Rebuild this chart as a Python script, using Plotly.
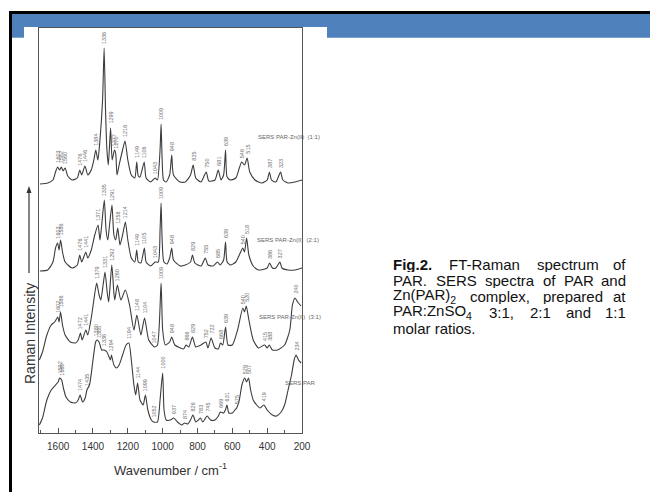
import numpy as np
import plotly.graph_objects as go

# ---------------- spectra (wavenumber / cm-1, stacked intensity) ----------------
wn_11 = [1705,1660,1630,1615,1603,1592,1582,1572,1560,1545,1520,1490,1476,1465,1446,1430,1410,1395,1384,1372,1360,1345,1336,1328,1320,1312,1299,1290,1277,1270,1262,1250,1230,1216,1200,1180,1160,1149,1140,1130,1106,1095,1070,1043,1030,1015,1009,1003,995,980,960,948,938,900,870,840,825,810,780,750,735,700,681,665,650,639,630,610,580,560,546,530,515,500,470,430,400,387,375,350,323,310,280,240,200]
in_11 = [249,250,253,261,266,263,266,262,265,257,253,255,263,258,267,258,263,273,283,273,293,333,385,323,283,268,305,273,283,280,258,268,283,292,273,258,255,271,257,256,271,255,251,255,253,283,309,273,253,251,258,278,258,251,251,258,268,255,251,261,252,253,263,253,258,283,256,253,255,265,271,268,275,261,253,250,253,261,253,251,261,253,250,251,253]

wn_21 = [1705,1660,1630,1615,1603,1595,1586,1575,1560,1520,1490,1476,1465,1441,1430,1410,1390,1371,1360,1350,1335,1325,1315,1305,1291,1280,1270,1258,1245,1230,1214,1200,1180,1160,1149,1140,1125,1105,1095,1070,1043,1025,1015,1009,1003,993,975,960,948,938,900,870,840,829,815,780,755,740,710,685,670,650,639,630,610,580,560,540,530,518,505,480,450,400,386,370,350,327,315,280,240,200]
in_21 = [162,163,171,185,190,183,193,181,171,165,168,178,171,181,175,183,198,208,193,208,233,203,193,208,228,198,193,205,188,198,211,193,175,171,183,171,170,185,171,167,171,171,203,230,193,171,169,175,185,173,167,168,171,178,170,167,175,168,167,171,168,173,191,171,168,171,178,185,181,195,178,167,163,165,170,165,165,171,165,163,163,165]

wn_31 = [1708,1690,1665,1640,1620,1602,1595,1586,1575,1560,1530,1500,1485,1472,1462,1441,1430,1410,1395,1379,1365,1355,1342,1331,1318,1310,1292,1280,1275,1260,1240,1214,1190,1165,1148,1125,1104,1080,1047,1030,1009,1000,985,960,948,930,880,866,850,829,810,780,752,740,722,700,680,668,655,639,625,600,570,540,530,520,505,480,450,415,400,388,370,340,300,270,255,240,225,205]
in_31 = [73,81,98,108,111,116,111,121,108,98,91,90,93,100,93,103,98,115,133,150,138,133,148,161,140,131,168,140,133,148,133,143,128,103,118,98,115,93,86,88,150,103,88,91,96,88,84,88,86,96,86,88,91,85,95,85,84,90,88,106,88,88,103,125,121,127,113,93,85,88,85,88,83,83,88,103,128,135,131,127]

wn_par = [1708,1690,1665,1640,1615,1600,1592,1580,1570,1555,1530,1500,1485,1474,1460,1445,1435,1420,1400,1385,1378,1365,1350,1336,1320,1300,1294,1280,1265,1250,1230,1210,1194,1180,1165,1155,1144,1130,1112,1099,1085,1065,1052,1030,1015,1000,992,980,955,937,915,890,874,855,840,826,810,795,783,770,745,725,700,680,669,650,640,631,620,600,585,575,560,545,529,518,507,495,480,460,440,419,400,370,345,320,300,280,260,245,234,220,205]
in_par = [8,15,33,43,48,51,55,53,45,36,31,30,33,38,31,35,43,48,73,91,93,91,83,83,81,73,78,68,65,68,78,88,90,73,48,38,50,33,28,38,23,13,11,11,33,60,23,13,13,15,11,8,10,9,13,18,11,13,15,11,17,13,13,17,21,20,23,28,20,20,23,25,33,48,55,51,55,43,33,28,25,28,23,18,17,21,28,43,58,73,78,73,70]

# peak positions annotated on each spectrum
pk_11 = ["1603","1582","1560","1476","1446","1384","1336","1299","1277","1270","1216","1149","1106","1043","1009","948","825","750","681","639","546","515","387","323"]
pk_21 = ["1603","1586","1476","1441","1371","1335","1291","1258","1214","1149","1105","1043","1009","948","829","755","685","639","540","518","386","327"]
pk_31 = ["1602","1586","1472","1441","1379","1331","1292","1260","1148","1104","1047","1009","948","866","829","752","722","668","639","540","520","415","388","240"]
pk_par = ["1592","1580","1474","1435","1380","1365","1336","1294","1194","1144","1099","1052","1000","937","874","826","783","745","669","631","575","529","507","419","234"]

names = ["SERS PAR-Zn(II)  (1:1)", "SERS PAR-Zn(II)  (2:1)", "SERS PAR-Zn(II)  (3:1)", "SERS PAR"]
xticks = [1600, 1400, 1200, 1000, 800, 600, 400, 200]

caption_lines = [
    ["<b>Fig.2.</b>", "FT-Raman", "spectrum", "of"],
    ["PAR.", "SERS", "spectra", "of", "PAR", "and"],
    ["Zn(PAR)<sub>2</sub>", "complex,", "prepared", "at"],
    ["PAR:ZnSO<sub>4</sub>", "3:1,", "2:1", "and", "1:1"],
    ["molar ratios."],
]

# ---------------- page geometry (pixels) ----------------
W, H = 650, 492
PL, PR, PT, PB = 39, 302, 28, 433


def px(x):
    return (x - PL) / (PR - PL)


def py(y):
    return (PB - y) / (PB - PT)


fig = go.Figure()
series = [(wn_11, in_11, pk_11), (wn_21, in_21, pk_21), (wn_31, in_31, pk_31), (wn_par, in_par, pk_par)]
annotations = []
for wn, inten, pk in series:
    fig.add_trace(go.Scatter(x=wn, y=inten, mode="lines",
                             line=dict(color="#3c3c3c", width=1.1, shape="spline", smoothing=0.6),
                             hoverinfo="skip", showlegend=False))
    w = np.array(wn, float)
    v = np.array(inten, float)
    for p in pk:
        pv = float(p)
        near = v[np.abs(w - pv) <= 6]
        top = near.max() if near.size else np.interp(pv, w[::-1], v[::-1])
        annotations.append(dict(x=pv, y=top + 2, xref="x", yref="y", text=p, textangle=-90,
                                showarrow=False, xanchor="center", yanchor="bottom",
                                font=dict(size=5.5, color="#707070", family="Liberation Sans")))

# spectrum names
for name, (x, y) in zip(names, [(289, 137), (288, 240), (290, 317), (300, 383)]):
    annotations.append(dict(x=px(x), y=py(y), xref="paper", yref="paper", text=name, showarrow=False,
                            xanchor="center", yanchor="middle",
                            font=dict(size=6, color="#666", family="Liberation Sans")))

# y-axis title
annotations.append(dict(x=px(30), y=py(334), xref="paper", yref="paper", text="Raman Intensity", textangle=-90,
                        showarrow=False, xanchor="center", yanchor="middle",
                        font=dict(size=14, color="#333", family="Liberation Sans")))

# caption, justified word by word (Arial advance widths, 1/1000 em)
AW = {" ": 278, ".": 278, ",": 278, ":": 278, "(": 333, ")": 333, "-": 333}
AW.update({d: 556 for d in "0123456789"})
AW.update(dict(zip("ABCDEFGHIJKLMNOPQRSTUVWXYZ",
                   [667, 667, 722, 722, 667, 611, 778, 722, 278, 500, 667, 556, 833, 722, 778, 667, 778, 722, 667, 611, 722, 667, 944, 667, 667, 611])))
AW.update(dict(zip("abcdefghijklmnopqrstuvwxyz",
                   [556, 556, 500, 556, 556, 278, 556, 556, 222, 222, 500, 222, 833, 556, 556, 556, 556, 333, 500, 278, 556, 500, 722, 500, 500, 500])))


def word_width(t, size):
    bold = t.startswith("<b>")
    sub = ""
    if "<sub>" in t:
        t, sub = t.split("<sub>")
        sub = sub.replace("</sub>", "")
    t = t.replace("<b>", "").replace("</b>", "")
    w = sum(AW.get(c, 556) for c in t) * size / 1000
    w += sum(AW.get(c, 556) for c in sub) * size * 0.7 / 1000
    return w * (1.06 if bold else 1.0)


CAP_SIZE, CAP_L, CAP_R, CAP_Y0, CAP_DY = 15, 392, 627, 264, 16
cap_font = dict(size=CAP_SIZE, color="#111", family="Liberation Sans")
for i, words in enumerate(caption_lines):
    y = CAP_Y0 + i * CAP_DY
    common = dict(y=py(y), xref="paper", yref="paper", showarrow=False, yanchor="middle",
                  height=CAP_DY, borderpad=0, valign="middle", font=cap_font)
    if len(words) == 1:
        annotations.append(dict(x=px(CAP_L), text=words[0], xanchor="left", **common))
        continue
    widths = [word_width(t, CAP_SIZE) for t in words]
    gap = (CAP_R - CAP_L - sum(widths)) / (len(words) - 1)
    x = CAP_L
    for j, (t, wd) in enumerate(zip(words, widths)):
        last = j == len(words) - 1
        annotations.append(dict(x=px(CAP_R if last else x), text=t,
                                xanchor="right" if last else "left", **common))
        x += wd + gap

# slide decoration: black rule, blue band, intensity arrow
shapes = []


def rect(x0, y0, x1, y1, color):
    shapes.append(dict(type="rect", xref="paper", yref="paper", x0=px(x0), x1=px(x1), y0=py(y0), y1=py(y1),
                       fillcolor=color, line=dict(width=0), layer="below"))


rect(9, 11, 650, 14, "#000000")
rect(9, 11, 12, 492, "#000000")
rect(12, 14, 650, 27, "#4F81BD")
rect(12, 27, 24, 37.7, "#4F81BD")
rect(327, 27, 650, 37.7, "#4F81BD")

shapes.append(dict(type="line", xref="paper", yref="paper", x0=px(29), x1=px(29), y0=py(273), y1=py(192),
                   line=dict(color="#333", width=1.2)))
shapes.append(dict(type="path", xref="paper", yref="paper",
                   path=f"M {px(26.5)} {py(193)} L {px(29)} {py(186)} L {px(31.5)} {py(193)} Z",
                   fillcolor="#333", line=dict(width=0)))

fig.update_layout(
    width=W, height=H,
    margin=dict(l=PL, r=W - PR, t=PT, b=H - PB, pad=0),
    paper_bgcolor="white", plot_bgcolor="white",
    annotations=annotations, shapes=shapes,
    font=dict(family="Liberation Sans"),
    xaxis=dict(range=[1710, 200], tickvals=xticks, ticktext=[str(t) for t in xticks],
               ticks="inside", ticklen=5, tickcolor="#555", showgrid=False, zeroline=False,
               showline=True, linecolor="#555", linewidth=1, mirror=True,
               tickfont=dict(size=10, color="#333"), ticklabelstandoff=4,
               minor=dict(ticks="inside", ticklen=3, dtick=100, tick0=0, tickcolor="#555"),
               title=dict(text="Wavenumber / cm<sup>-1</sup>", font=dict(size=13, color="#333"), standoff=14)),
    yaxis=dict(range=[0, 405], showticklabels=False, ticks="", showgrid=False, zeroline=False,
               showline=True, linecolor="#555", linewidth=1, mirror=True),
)

fig.write_html("out.html")
